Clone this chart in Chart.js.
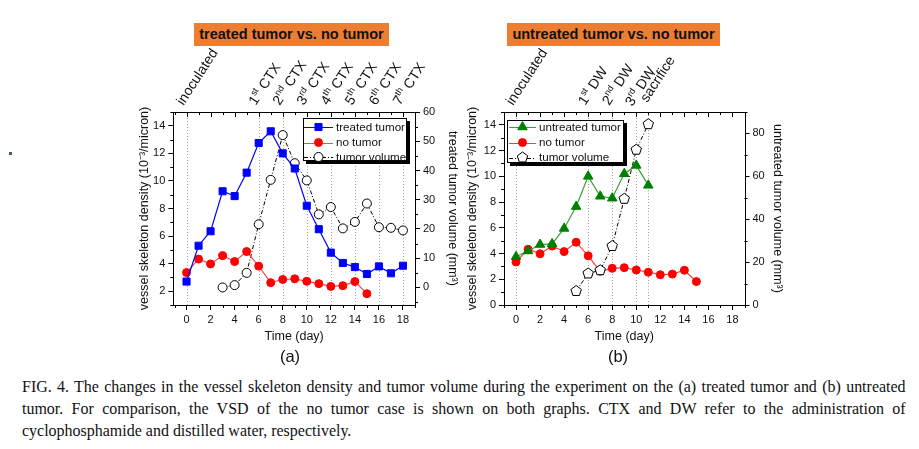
<!DOCTYPE html>
<html>
<head>
<meta charset="utf-8">
<script src="https://cdn.jsdelivr.net/npm/chart.js@4.4.1/dist/chart.umd.min.js"></script>
<style>
  html, body { margin: 0; padding: 0; background: #fff; }
  body { position: relative; width: 919px; height: 449px; overflow: hidden; font-family: "Liberation Sans", Arial, sans-serif; }
  #chartA { position: absolute; left: 0; top: 0; }
  #chartB { position: absolute; left: 460px; top: 0; }
  .banner { position: absolute; top: 23px; height: 23px; line-height: 23px; background: #ED7D31; color: #111; font-weight: bold; font-size: 14.5px; text-align: center; }
  .panel { position: absolute; top: 347px; width: 40px; font-size: 16.5px; text-align: center; color: #111; }
  .caption { position: absolute; left: 22px; width: 940px; height: 22px; font-family: "Liberation Serif", "Times New Roman", serif; font-size: 17px; line-height: 22px; white-space: nowrap; color: #111; transform: scaleX(0.94); transform-origin: 0 0; }
  .just { text-align: justify; text-align-last: justify; }
  .dot { position: absolute; left: 9px; top: 152px; width: 3px; height: 3px; background: #3d5a6e; }
</style>
</head>
<body>
<div class="dot"></div>
<div class="banner" style="left:194px;width:195px;">treated tumor vs. no tumor</div>
<div class="banner" style="left:507px;width:213px;">untreated tumor vs. no tumor</div>
<canvas id="chartA" width="470" height="370"></canvas>
<canvas id="chartB" width="459" height="370"></canvas>
<div class="panel" style="left:270px;">(a)</div>
<div class="panel" style="left:598px;">(b)</div>
<div class="caption just" style="top:376px;">FIG. 4. The changes in the vessel skeleton density and tumor volume during the experiment on the (a) treated tumor and (b) untreated</div>
<div class="caption just" style="top:398px;">tumor. For comparison, the VSD of the no tumor case is shown on both graphs. CTX and DW refer to the administration of</div>
<div class="caption" style="top:420px;">cyclophosphamide and distilled water, respectively.</div>
<script>
// ---- data ----
const daysA = [0, 1, 2, 3, 4, 5, 6, 7, 8, 9, 10, 11, 12, 13, 14, 15, 16, 17, 18];
const treatedVSD = [2.7, 5.3, 6.35, 9.25, 8.9, 10.6, 12.75, 13.6, 12.0, 10.9, 8.2, 6.5, 4.8, 4.05, 3.75, 3.25, 3.8, 3.3, 3.85];

const noTumorDays = [0, 1, 2, 3, 4, 5, 6, 7, 8, 9, 10, 11, 12, 13, 14, 15];
const noTumorVSD = [3.35, 4.33, 3.98, 4.58, 4.15, 4.88, 3.82, 2.62, 2.85, 2.9, 2.72, 2.55, 2.35, 2.4, 2.7, 1.82];

const treatedVolDays = [3, 4, 5, 6, 7, 8, 9, 10, 11, 12, 13, 14, 15, 16, 17, 18];
const treatedVol = [0, 0.8, 5.0, 21.6, 36.8, 52.1, 42.5, 36.6, 25.0, 27.5, 20.2, 22.4, 28.7, 20.6, 20.4, 19.5];

const untreatedDays = [0, 1, 2, 3, 4, 5, 6, 7, 8, 9, 10, 11];
const untreatedVSD = [3.75, 4.2, 4.7, 4.75, 5.95, 7.65, 10.0, 8.45, 8.3, 10.2, 10.85, 9.3];

const untreatedVolDays = [5, 6, 7, 8, 9, 10, 11];
const untreatedVol = [6.5, 14.7, 16.2, 27.5, 49.5, 72.4, 84.3];

// event days and their labels: [text, superscript, rest]
const eventDaysA = [0, 6, 8, 10, 12, 14, 16, 18];
const eventLabelsA = [['inoculated', '', ''], ['1', 'st', ' CTX'], ['2', 'nd', ' CTX'], ['3', 'rd', ' CTX'],
  ['4', 'th', ' CTX'], ['5', 'th', ' CTX'], ['6', 'th', ' CTX'], ['7', 'th', ' CTX']];
const eventDaysB = [0, 6, 8, 10, 11];
const eventLabelsB = [['inoculated', '', ''], ['1', 'st', ' DW'], ['2', 'nd', ' DW'], ['3', 'rd', ' DW'], ['sacrifice', '', '']];

// tick labels
const xTicks = [0, 2, 4, 6, 8, 10, 12, 14, 16, 18];
const xMinor = [-1, 1, 3, 5, 7, 9, 11, 13, 15, 17, 19];
const vsdTicksA = [2, 4, 6, 8, 10, 12, 14];
const vsdMinorA = [1, 3, 5, 7, 9, 11, 13, 15];
const volTicksA = [0, 10, 20, 30, 40, 50, 60];
const volMinorA = [-5, 5, 15, 25, 35, 45, 55];
const vsdTicksB = [0, 2, 4, 6, 8, 10, 12, 14];
const vsdMinorB = [1, 3, 5, 7, 9, 11, 13, 15];
const volTicksB = [0, 20, 40, 60, 80];
const volMinorB = [10, 30, 50, 70, 90];

const FAM = '"Liberation Sans", Arial, sans-serif';
const pts = (xs, ys) => xs.map((d, i) => ({ x: d, y: ys[i] }));
const fixTicks = list => scale => { scale.ticks = list.map(v => ({ value: v })); };

function line(ctx, x0, y0, x1, y1) {
  ctx.beginPath();
  ctx.moveTo(x0, y0);
  ctx.lineTo(x1, y1);
  ctx.stroke();
}

function drawPentagon(ctx, x, y, r) {
  ctx.save();
  ctx.setLineDash([]);
  ctx.beginPath();
  for (let k = 0; k < 5; k++) {
    const a = -Math.PI / 2 + k * 2 * Math.PI / 5;
    ctx.lineTo(x + r * Math.cos(a), y + r * Math.sin(a));
  }
  ctx.closePath();
  ctx.fillStyle = '#fff';
  ctx.fill();
  ctx.strokeStyle = '#000';
  ctx.lineWidth = 1;
  ctx.stroke();
  ctx.restore();
}

// dotted event lines, frame, minor ticks, rotated labels, boxed legend
const figPlugin = {
  id: 'fig',
  beforeDatasetsDraw(chart, args, o) {
    const { ctx, chartArea: a, scales: { x } } = chart;
    ctx.save();
    ctx.strokeStyle = '#a0a0a0';
    ctx.lineWidth = 1;
    ctx.setLineDash([1, 2]);
    o.events.forEach(v => {
      const px = Math.round(x.getPixelForValue(v)) + 0.5;
      line(ctx, px, a.top, px, a.bottom);
    });
    ctx.restore();
  },
  afterDatasetsDraw(chart) {
    chart.data.datasets.forEach((ds, i) => {
      if (!ds.pentagon) return;
      chart.getDatasetMeta(i).data.forEach(el => drawPentagon(chart.ctx, el.x, el.y, ds.pentagon));
    });
  },
  afterDraw(chart, args, o) {
    const { ctx, chartArea: a, scales: { x, y, y2 } } = chart;
    const c = v => Math.round(v) + 0.5;
    ctx.save();
    ctx.strokeStyle = '#000';
    ctx.lineWidth = 1;
    ctx.strokeRect(c(a.left), c(a.top), Math.round(a.right) - Math.round(a.left), Math.round(a.bottom) - Math.round(a.top));
    o.xMinor.forEach(v => {
      const px = x.getPixelForValue(v);
      if (px < a.left || px > a.right) return;
      line(ctx, c(px), a.bottom, c(px), a.bottom + 3);
      line(ctx, c(px), a.top, c(px), a.top + 3);
    });
    o.xMajor.forEach(v => {
      const px = x.getPixelForValue(v);
      line(ctx, c(px), a.top, c(px), a.top + 5);
    });
    o.yMinor.forEach(v => {
      const py = y.getPixelForValue(v);
      if (py < a.top - 0.5 || py > a.bottom + 0.5) return;
      line(ctx, a.left - 3, c(py), a.left, c(py));
    });
    o.y2Minor.forEach(v => {
      const py = y2.getPixelForValue(v);
      if (py < a.top - 0.5 || py > a.bottom + 0.5) return;
      line(ctx, a.right, c(py), a.right + 3, c(py));
    });

    // rotated event labels
    ctx.fillStyle = '#111';
    ctx.textBaseline = 'alphabetic';
    ctx.textAlign = 'left';
    o.labels.forEach((lab, i) => {
      const px = x.getPixelForValue(o.events[i]);
      const nudge = o.nudge[i] || [0, 0];
      ctx.save();
      ctx.translate(px - 3 + nudge[0], 106 + nudge[1]);
      ctx.rotate(-57 * Math.PI / 180);
      let cx = 0;
      ctx.font = '14px ' + FAM;
      ctx.fillText(lab[0], cx, 0);
      cx += ctx.measureText(lab[0]).width;
      if (lab[1]) {
        ctx.font = '9px ' + FAM;
        ctx.fillText(lab[1], cx, -6);
        cx += ctx.measureText(lab[1]).width;
      }
      if (lab[2]) {
        ctx.font = '14px ' + FAM;
        ctx.fillText(lab[2], cx, 0);
      }
      ctx.restore();
    });

    // legend box with shadow
    const L = o.legend;
    const w = L.right - L.left, h = L.bottom - L.top;
    ctx.fillStyle = '#000';
    ctx.fillRect(L.left + 3, L.top + 3, w, h);
    ctx.fillStyle = '#fff';
    ctx.fillRect(L.left, L.top, w, h);
    ctx.strokeRect(L.left + 0.5, L.top + 0.5, w - 1, h - 1);
    chart.data.datasets.forEach((ds, i) => {
      const ry = L.rows[i];
      const mx = (L.line0 + L.line1) / 2;
      ctx.strokeStyle = ds.borderColor;
      ctx.lineWidth = 1;
      ctx.setLineDash(ds.borderDash || []);
      line(ctx, L.line0, c(ry), L.line1, c(ry));
      ctx.setLineDash([]);
      if (ds.pentagon) {
        drawPentagon(ctx, mx, ry, ds.pentagon);
      } else {
        ctx.fillStyle = ds.pointBackgroundColor;
        ctx.strokeStyle = ds.pointBorderColor;
        Chart.helpers.drawPoint(ctx, { pointStyle: ds.pointStyle, radius: ds.pointRadius, rotation: 0, borderWidth: 1 }, mx, ry);
      }
      ctx.fillStyle = '#111';
      ctx.font = '11.6px ' + FAM;
      ctx.textBaseline = 'middle';
      ctx.fillText(ds.label, L.textX, ry + 0.5);
    });
    ctx.restore();
  }
};

function axisX() {
  return {
    type: 'linear', min: -1.1, max: 19,
    afterBuildTicks: fixTicks(xTicks),
    afterFit: s => { s.height = 43.5; },
    ticks: { color: '#111', font: { family: FAM, size: 11 }, padding: 3, maxRotation: 0, autoSkip: false },
    grid: { drawOnChartArea: false, tickLength: 5, color: '#000' },
    border: { display: false },
    title: { display: true, text: 'Time (day)', color: '#111', font: { family: FAM, size: 12.5 }, padding: { top: 4, bottom: 4 } }
  };
}

function axisY(pos, min, max, ticks, title, width) {
  return {
    type: 'linear', position: pos, min, max,
    afterBuildTicks: fixTicks(ticks),
    afterFit: s => { s.width = width; },
    ticks: { color: '#111', font: { family: FAM, size: 11 }, padding: 3 },
    grid: { drawOnChartArea: false, tickLength: 5, color: '#000' },
    border: { display: false },
    title: { display: true, text: title, color: '#111', font: { family: FAM, size: 12.5 }, padding: { top: 4, bottom: 4 } }
  };
}

const vsdTitle = 'vessel skeleton density (10\u207B\u00B3/micron)';

new Chart(document.getElementById('chartA'), {
  type: 'line',
  data: {
    datasets: [
      { label: 'treated tumor', data: pts(daysA, treatedVSD), yAxisID: 'y',
        borderColor: '#0000FF', borderWidth: 1.2, pointStyle: 'rect', pointRadius: 5,
        pointBackgroundColor: '#0000FF', pointBorderColor: '#0000FF', pointBorderWidth: 1 },
      { label: 'no tumor', data: pts(noTumorDays, noTumorVSD), yAxisID: 'y',
        borderColor: '#FF4A4A', borderWidth: 1.2, pointStyle: 'circle', pointRadius: 4,
        pointBackgroundColor: '#FF0000', pointBorderColor: '#FF0000', pointBorderWidth: 1 },
      { label: 'tumor volume', data: pts(treatedVolDays, treatedVol), yAxisID: 'y2',
        borderColor: '#000', borderWidth: 1, borderDash: [4, 2, 1, 2], pointStyle: 'circle', pointRadius: 4.5,
        pointBackgroundColor: '#fff', pointBorderColor: '#000', pointBorderWidth: 1 }
    ]
  },
  options: {
    responsive: false, animation: false, devicePixelRatio: 1,
    layout: { padding: { left: 133, right: 6, top: 112, bottom: 21.5 } },
    scales: {
      x: axisX(),
      y: axisY('left', 1, 15, vsdTicksA, vsdTitle, 40.3),
      y2: axisY('right', -6, 60, volTicksA, 'treated tumor volume (mm\u00B3)', 49)
    },
    plugins: {
      legend: { display: false }, tooltip: { enabled: false },
      fig: {
        events: eventDaysA, labels: eventLabelsA, nudge: [],
        xMajor: xTicks, xMinor: xMinor, yMinor: vsdMinorA, y2Minor: volMinorA,
        legend: { left: 303, top: 118, right: 407, bottom: 161, rows: [127, 142.5, 157], line0: 304, line1: 333, textX: 336 }
      }
    }
  },
  plugins: [figPlugin]
});

new Chart(document.getElementById('chartB'), {
  type: 'line',
  data: {
    datasets: [
      { label: 'untreated tumor', data: pts(untreatedDays, untreatedVSD), yAxisID: 'y',
        borderColor: '#35A035', borderWidth: 1.2, pointStyle: 'triangle', pointRadius: 5.5,
        pointBackgroundColor: '#008000', pointBorderColor: '#008000', pointBorderWidth: 1 },
      { label: 'no tumor', data: pts(noTumorDays, noTumorVSD), yAxisID: 'y',
        borderColor: '#FF3A3A', borderWidth: 1.2, pointStyle: 'circle', pointRadius: 4,
        pointBackgroundColor: '#FF0000', pointBorderColor: '#FF0000', pointBorderWidth: 1 },
      { label: 'tumor volume', data: pts(untreatedVolDays, untreatedVol), yAxisID: 'y2',
        borderColor: '#000', borderWidth: 1, borderDash: [4, 2, 1, 2], pointRadius: 0, pentagon: 5.5 }
    ]
  },
  options: {
    responsive: false, animation: false, devicePixelRatio: 1,
    layout: { padding: { left: 1.5, right: 130.5, top: 112, bottom: 21.5 } },
    scales: {
      x: Object.assign(axisX(), { min: -1, max: 19 }),
      y: axisY('left', 0, 15, vsdTicksB, vsdTitle, 42.5),
      y2: axisY('right', 0, 90, volTicksB, 'untreated tumor volume (mm\u00B3)', 44)
    },
    plugins: {
      legend: { display: false }, tooltip: { enabled: false },
      fig: {
        events: eventDaysB, labels: eventLabelsB, nudge: [null, null, null, [-1, 1], [2, -3]],
        xMajor: xTicks, xMinor: xMinor, yMinor: vsdMinorB, y2Minor: volMinorB,
        legend: { left: 47, top: 120, right: 164, bottom: 163, rows: [127, 142.5, 157.5], line0: 49, line1: 76, textX: 79 }
      }
    }
  },
  plugins: [figPlugin]
});
</script>
</body>
</html>
